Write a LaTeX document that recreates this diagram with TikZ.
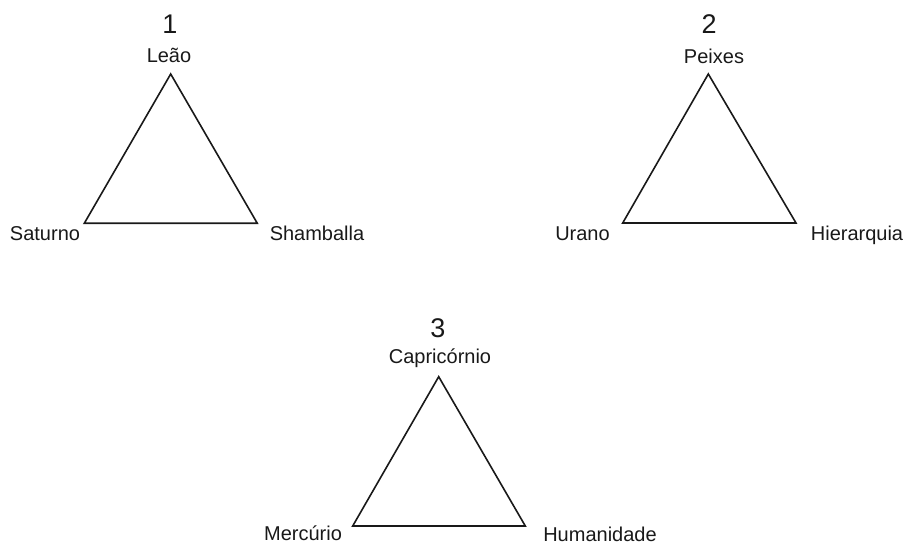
\documentclass[tikz,border=0pt]{standalone}
\usepackage{fontspec}
\setmainfont{Liberation Sans}
\begin{document}
\begin{tikzpicture}[x=1pt,y=-1pt,
  vertexlabel/.style={anchor=base,inner sep=0pt,text=black!90,font=\fontsize{20}{24}\selectfont},
  numlabel/.style={anchor=base,inner sep=0pt,text=black!90,font=\fontsize{27}{31}\selectfont},
  triangleside/.style={draw=black!90,line width=1.6pt,line join=miter}]
  \useasboundingbox (0,0) rectangle (907,545);

  % Triangle 1
  \coordinate (t1a) at (170.7,74);
  \coordinate (t1l) at (84.3,223.3);
  \coordinate (t1r) at (257.3,223.3);
  \draw[triangleside] (t1a) -- (t1l) -- (t1r) -- cycle;
  \node[numlabel] (n1) at (170,33.5) {1};
  \node[vertexlabel] (leao) at (169,63) {Leão};
  \node[vertexlabel] (saturno) at (45,241) {Saturno};
  \node[vertexlabel] (shamballa) at (317,241) {Shamballa};

  % Triangle 2
  \coordinate (t2a) at (708.3,74);
  \coordinate (t2l) at (622.7,223);
  \coordinate (t2r) at (796,223);
  \draw[triangleside] (t2a) -- (t2l) -- (t2r) -- cycle;
  \node[numlabel] (n2) at (709,33.5) {2};
  \node[vertexlabel] (peixes) at (714,64) {Peixes};
  \node[vertexlabel] (urano) at (582.5,241) {Urano};
  \node[vertexlabel] (hierarquia) at (857,241) {Hierarquia};

  % Triangle 3
  \coordinate (t3a) at (438.7,376.7);
  \coordinate (t3l) at (352.7,526);
  \coordinate (t3r) at (525.3,526);
  \draw[triangleside] (t3a) -- (t3l) -- (t3r) -- cycle;
  \node[numlabel] (n3) at (438,337) {3};
  \node[vertexlabel] (capricornio) at (440,363) {Capricórnio};
  \node[vertexlabel] (mercurio) at (303,540.5) {Mercúrio};
  \node[vertexlabel] (humanidade) at (600,541) {Humanidade};
\end{tikzpicture}
\end{document}
